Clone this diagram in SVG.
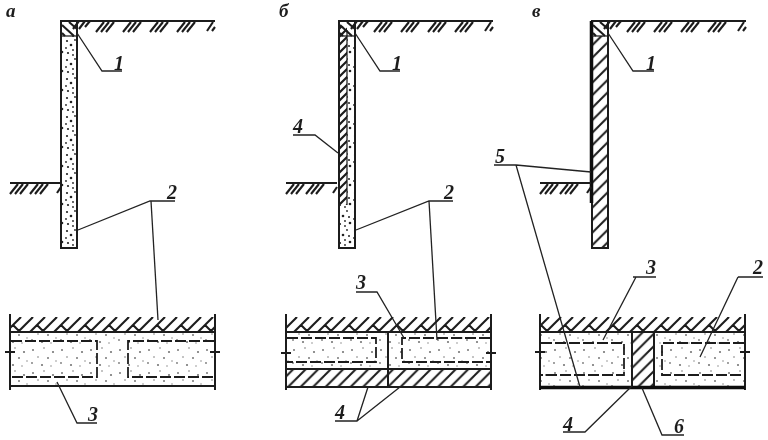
<svg xmlns="http://www.w3.org/2000/svg" width="768" height="440" viewBox="0 0 768 440">
<style>
.l{fill:none;stroke:#1c1c1c;stroke-width:2}
.t{fill:none;stroke:#222;stroke-width:1.3}
.k{fill:none;stroke:#111;stroke-width:3.5}
.d{fill:none;stroke:#1c1c1c;stroke-width:1.8;stroke-dasharray:11 3}
.s{stroke:#1c1c1c;stroke-width:2.1;fill:none}
text{font-family:"Liberation Serif","DejaVu Serif",serif;font-style:italic;font-weight:bold;fill:#1c1c1c;font-size:20px}
.p{font-size:19px}
</style>
<defs>
<filter id="soft" filterUnits="userSpaceOnUse" x="0" y="0" width="768" height="440"><feGaussianBlur stdDeviation="0.4"/></filter>
<pattern id="hatch" patternUnits="userSpaceOnUse" width="12.500" height="12.500"><path d="M-2 14.500L14.500 -2M-2 2L2 -2M10.500 14.500L14.500 10.500" stroke="#1c1c1c" stroke-width="2" fill="none"/></pattern>
<pattern id="nhatch" patternUnits="userSpaceOnUse" width="8" height="8"><path d="M-2 10L10 -2M-2 2L2 -2M6 10L10 6" stroke="#1c1c1c" stroke-width="2.200" fill="none"/></pattern>
<pattern id="herr" patternUnits="userSpaceOnUse" x="0" y="317" width="24" height="15"><path d="M-6 15L9 0M6 15L21 0M18 15L33 0M-18 15L-3 0M13 8L19 14M-11 8L-5 14M3 6L8 1M27 6L32 1" stroke="#1c1c1c" stroke-width="2.100" fill="none"/></pattern>
<pattern id="stip" patternUnits="userSpaceOnUse" width="29" height="23"><g fill="#777"><circle cx="4" cy="5" r="1"/><circle cx="15" cy="3" r=".8"/><circle cx="24" cy="7" r="1.100"/><circle cx="9" cy="12" r=".8"/><circle cx="19" cy="13" r="1"/><circle cx="27" cy="16" r=".7"/><circle cx="3" cy="18" r=".9"/><circle cx="13" cy="20" r="1.100"/><circle cx="22" cy="21" r=".7"/></g></pattern>
<pattern id="wstip" patternUnits="userSpaceOnUse" width="16" height="19"><g fill="#222"><circle cx="3" cy="3" r="1.100"/><circle cx="11" cy="2" r=".9"/><circle cx="7" cy="7" r="1.300"/><circle cx="13" cy="8" r="1"/><circle cx="2" cy="10" r=".9"/><circle cx="9" cy="12" r=".9"/><circle cx="14" cy="14" r="1.300"/><circle cx="4" cy="15" r="1.100"/><circle cx="9" cy="17" r=".9"/></g></pattern>
<g id="t3"><path class="s" d="M0 10L8 0M5 10L13 0M10 10L18 0"/></g>
<g id="top">
<path class="l" d="M0 0H154"/>
<path class="s" d="M18 0L12 8M24 0L18 8M29 0L24 6"/>
<use href="#t3" x="35" y="1"/><use href="#t3" x="62" y="1"/><use href="#t3" x="89" y="1"/><use href="#t3" x="116" y="1"/>
<path class="s" d="M146 10L152 1M151 10L154 6"/>
<path class="t" d="M0 15H16"/>
<path class="s" d="M1 4L13 15M1 12L4 15M8 1L16 8"/>
</g>
<g id="low">
<path class="l" d="M0 0H51"/>
<use href="#t3" x="0" y="1"/><use href="#t3" x="20" y="1"/>
<path class="s" d="M47 10L51 4"/>
</g>
<g id="brk"><path class="l" d="M-5 1H5"/></g>
</defs>
<rect width="768" height="440" fill="#fff"/>
<g filter="url(#soft)">
<g id="panel-a">
<text class="p" x="6" y="17">а</text>
<rect x="61" y="36" width="16" height="212" fill="url(#wstip)"/>
<rect class="l" x="61" y="21" width="16" height="227"/>
<use href="#top" x="61" y="21"/>
<use href="#low" x="10" y="183"/>
</g>
<g id="panel-b">
<text class="p" x="279" y="17">б</text>
<rect x="339" y="36" width="16" height="212" fill="url(#wstip)"/>
<rect x="339" y="26" width="8" height="179" fill="#fff"/>
<rect x="339" y="26" width="8" height="179" fill="url(#nhatch)"/>
<path class="t" d="M347 30V205"/>
<rect class="l" x="339" y="21" width="16" height="227"/>
<use href="#top" x="339" y="21"/>
<use href="#low" x="286" y="183"/>
</g>
<g id="panel-c">
<text class="p" x="532" y="17">в</text>
<rect x="592" y="36" width="16" height="212" fill="url(#hatch)"/>
<rect class="l" x="592" y="21" width="16" height="227"/>
<path class="k" d="M591.500 21V203"/>
<use href="#top" x="592" y="21"/>
<use href="#low" x="540" y="183"/>
</g>
<g id="plan-a">
<rect x="10" y="317" width="205" height="15" fill="url(#herr)"/>
<rect x="10" y="332" width="205" height="54" fill="url(#stip)"/>
<path class="l" d="M10 314V390M215 314V390M10 332H215M10 386H215"/>
<path class="d" d="M11 341H97V377H11M214 341H128V377H214"/>
<use href="#brk" x="10" y="351"/><use href="#brk" x="215" y="351"/>
</g>
<g id="plan-b">
<rect x="286" y="317" width="205" height="15" fill="url(#herr)"/>
<rect x="286" y="332" width="205" height="37" fill="url(#stip)"/>
<rect x="286" y="369" width="205" height="18" fill="url(#hatch)"/>
<path class="l" d="M286 314V390M491 314V390M286 332H491M286 369H491M286 387H491M388 332V387"/>
<path class="d" d="M287 338H376V362H287M490 338H402V362H490"/>
<use href="#brk" x="286" y="352"/><use href="#brk" x="491" y="352"/>
</g>
<g id="plan-c">
<rect x="540" y="317" width="205" height="15" fill="url(#herr)"/>
<rect x="540" y="332" width="205" height="54" fill="url(#stip)"/>
<rect x="632" y="332" width="22" height="55" fill="#fff"/>
<rect x="632" y="332" width="22" height="55" fill="url(#hatch)"/>
<path class="l" d="M540 314V390M745 314V390M540 332H745M632 332V387M654 332V387"/>
<path class="k" d="M540 387.500H745"/>
<path class="d" d="M541 343H624V375H541M744 343H662V375H744"/>
<use href="#brk" x="540" y="351"/><use href="#brk" x="745" y="351"/>
</g>
<g id="connectors">
<path class="t" d="M77 33L102 71H122M78 230L150 201H175M151 201L158 320M57 382L77 423H97"/>
<path class="t" d="M355 33L380 71H400M338 153L315 135H293M356 230L429 201H453M429 201L437 340M356 292H377L404 338M335 421H357L368 387M357 421L400 387"/>
<path class="t" d="M608 33L633 71H654M494 165H516L591 172M516 165L580 387M633 277H656M636 277L603 340M738 277H763M738 277L700 357M563 432H585L632 386M642 388L662 435H684"/>
</g>
<g id="labels">
<text x="114" y="70">1</text><text x="167" y="199">2</text><text x="88" y="421">3</text>
<text x="392" y="70">1</text><text x="293" y="133">4</text><text x="444" y="199">2</text><text x="356" y="289">3</text><text x="335" y="419">4</text>
<text x="646" y="70">1</text><text x="495" y="163">5</text><text x="646" y="274">3</text><text x="753" y="274">2</text><text x="563" y="431">4</text><text x="674" y="433">6</text>
</g>
</g>
</svg>
